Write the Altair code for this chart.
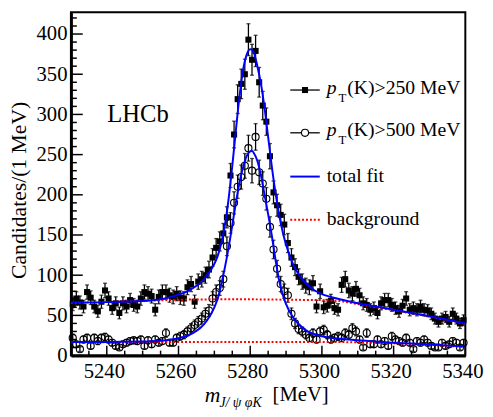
import altair as alt
import pandas as pd

# ── Data: candidates per 1 MeV bin ───────────────────────────────────────────
mass = [5230.5 + i for i in range(110)]   # bin centres

n_250 = [64, 71, 66, 61, 79, 72, 61, 55, 67, 81, 71, 59, 65, 53, 65, 61, 69, 63,
         61, 71, 79, 77, 74, 57, 73, 79, 79, 75, 73, 77, 72, 71, 85, 89, 67, 92,
         95, 100, 107, 122, 134, 142, 152, 172,
         224, 275, 319, 338, 350, 393, 368, 379, 340, 311, 291, 248, 203,
         187, 175, 163, 140, 122, 110, 98, 92, 87, 85, 90, 61, 80, 60, 62, 68,
         59, 57, 88, 95, 81, 77, 83, 75, 65, 63, 57, 59, 53, 65, 69, 69, 63, 59,
         55, 62, 71, 57, 59, 57, 61, 57, 56, 52, 46, 42, 46, 48, 42, 52, 46, 40,
         44]

n_500 = [22, 14, 8, 20, 22, 12, 22, 18, 22, 23, 20, 16, 12, 10, 14, 16, 18, 19,
         18, 20, 12, 19, 14, 20, 16, 18, 28, 16, 16,
         22, 24, 26, 30, 34, 38, 42, 46, 52, 56, 71, 79, 84, 95, 136, 165, 190, 210,
         222, 236, 258, 230, 272, 228, 214,
         195, 160, 132, 108, 89, 80, 75, 52,
         40, 33, 30, 26, 22, 28, 20, 30, 32, 26, 20, 22, 24, 22, 28, 26, 34, 30,
         20, 10, 28, 14, 14, 20, 14, 18, 12, 24, 20, 18, 16, 22, 16, 8, 18, 16,
         20, 16, 12, 10, 10, 16, 12, 14, 18, 16, 10, 16]

# fitted curves (total fit), sampled off the figure
fit_m = [5230, 5240, 5250, 5255, 5258, 5260, 5262, 5264, 5266, 5268, 5270, 5271,
         5272, 5273, 5274, 5275, 5276, 5277, 5278, 5279, 5280, 5280.5, 5281, 5282,
         5283, 5284, 5285, 5286, 5287, 5288, 5289, 5290, 5292, 5294, 5296, 5298,
         5300, 5302, 5305, 5310, 5315, 5320, 5325, 5330, 5335, 5340]
fit_250 = [66, 66.5, 68, 70, 73, 76, 79, 84, 90, 100, 114, 125,
           141, 164, 196, 236, 280, 322, 355, 374, 381, 380.5, 377, 360,
           338, 308, 272, 236, 204, 177, 155, 138, 113, 98, 88, 81,
           76.5, 73.5, 70, 65, 61, 57, 53, 49, 44.5, 40]
fit_500 = [17, 17, 17.5, 18.5, 20, 21.5, 24, 28, 34, 44, 60, 72,
           90, 111, 135, 162, 190, 215, 234, 248, 254, 254.5, 252, 242,
           224, 200, 176, 150, 121, 95, 77, 64, 47, 37, 30, 26.5,
           24, 22.5, 21, 19, 17.5, 16, 15, 14, 12.5, 11]

# background component
bkg_m = [5230, 5240, 5250, 5260, 5270, 5280, 5290, 5300, 5305, 5310, 5320, 5330, 5340]
bkg_250 = [65.5, 66.5, 68, 69.5, 70, 70, 69.5, 69, 68, 64, 56.5, 48.5, 39.5]
bkg_500 = [16.5, 16.5, 16.8, 17, 17, 17, 17, 17, 16.8, 16.5, 15.2, 13.5, 10.7]

# axis ticks (drawn inward, ROOT style)
x_major = [5240, 5260, 5280, 5300, 5320, 5340]
x_minor = [5235, 5245, 5250, 5255, 5265, 5270, 5275, 5285, 5290, 5295,
           5305, 5310, 5315, 5325, 5330, 5335]
y_major = [0, 50, 100, 150, 200, 250, 300, 350, 400]
y_minor = [10, 20, 30, 40, 60, 70, 80, 90, 110, 120, 130, 140, 160, 170, 180, 190,
           210, 220, 230, 240, 260, 270, 280, 290, 310, 320, 330, 340, 360, 370,
           380, 390, 410, 420]

# ── Tables ───────────────────────────────────────────────────────────────────
pts = pd.DataFrame({
    'm': mass * 2,
    'n': n_250 + n_500,
    'sel': ['250'] * len(mass) + ['500'] * len(mass),
})
fits = pd.DataFrame({
    'm': fit_m * 2,
    'v': fit_250 + fit_500,
    'sel': ['250'] * len(fit_m) + ['500'] * len(fit_m),
})
bkgs = pd.DataFrame({
    'm': bkg_m * 2,
    'v': bkg_250 + bkg_500,
    'sel': ['250'] * len(bkg_m) + ['500'] * len(bkg_m),
})
one = pd.DataFrame({'z': [0]})

W, H = 401, 349
FONT = 'Liberation Serif'

x_scale = alt.Scale(domain=[5230, 5340], nice=False, zero=False)
y_scale = alt.Scale(domain=[0, 427], nice=False)
x_axis = alt.Axis(values=x_major, format='d', title=None, ticks=False, grid=False,
                  labelFont=FONT, labelFontSize=21, labelColor='black',
                  labelPadding=5, labelOffset=-3, labelFlush=False,
                  domainColor='black', domainWidth=3)
y_axis = alt.Axis(values=y_major, format='d', title=None, ticks=False, grid=False,
                  labelFont=FONT, labelFontSize=21, labelColor='black',
                  labelPadding=4, labelFlush=False,
                  domainColor='black', domainWidth=3)


def X(f):
    return alt.X(f, type='quantitative', scale=x_scale, axis=x_axis)


def Y(f):
    return alt.Y(f, type='quantitative', scale=y_scale, axis=y_axis)


# ── Data points with sqrt(N) error bars ──────────────────────────────────────
base = alt.Chart(pts).transform_calculate(
    lo='datum.n - sqrt(datum.n)', hi='datum.n + sqrt(datum.n)'
)
err = base.mark_rule(color='black', strokeWidth=1.3).encode(x=X('m'), y=Y('lo'), y2='hi:Q')
cap_lo = base.mark_tick(orient='horizontal', size=4, thickness=1.3, color='black').encode(x=X('m'), y=Y('lo'))
cap_hi = base.mark_tick(orient='horizontal', size=4, thickness=1.3, color='black').encode(x=X('m'), y=Y('hi'))
sq = base.transform_filter("datum.sel == '250'").mark_point(
    shape='square', filled=True, size=38, color='black', opacity=1
).encode(x=X('m'), y=Y('n'))
ci = base.transform_filter("datum.sel == '500'").mark_point(
    shape='circle', filled=False, size=52, color='black', strokeWidth=1.1, opacity=1
).encode(x=X('m'), y=Y('n'))

# ── Fit curves ───────────────────────────────────────────────────────────────
bkg_line = alt.Chart(bkgs).mark_line(color='red', strokeWidth=2, strokeDash=[2, 2]).encode(
    x=X('m'), y=Y('v'), detail='sel:N')
fit_line = alt.Chart(fits).mark_line(color='blue', strokeWidth=2, interpolate='monotone').encode(
    x=X('m'), y=Y('v'), detail='sel:N')

# ── Inward ticks ─────────────────────────────────────────────────────────────
def xt(vals, ln):
    return alt.Chart(pd.DataFrame({'t': vals})).mark_rule(color='black', strokeWidth=1.5).encode(
        x=X('t'), y=alt.value(H), y2=alt.value(H - ln))


def yt(vals, ln):
    return alt.Chart(pd.DataFrame({'t': vals})).mark_rule(color='black', strokeWidth=1.5).encode(
        y=Y('t'), x=alt.value(0), x2=alt.value(ln))


ticks = [xt(x_major, 10), xt(x_minor, 5), yt(y_major, 12), yt(y_minor, 6)]

# ── Text, titles and hand-made legend ────────────────────────────────────────
def txt(s, x, y, size=20, style='normal', align='left', angle=0):
    return alt.Chart(one).mark_text(
        text=s, font=FONT, fontSize=size, fontStyle=style, align=align,
        baseline='middle', angle=angle, color='black'
    ).encode(x=alt.value(x), y=alt.value(y))


def seg(y, color, dash=None):
    kw = dict(color=color, strokeWidth=2 if color != 'black' else 1.3)
    if dash:
        kw['strokeDash'] = dash
    return alt.Chart(one).mark_rule(**kw).encode(
        x=alt.value(223), x2=alt.value(253), y=alt.value(y))


texts = [
    txt('LHCb', 37, 104, size=25),
    txt('Candidates/(1 MeV)', -53, 181, size=22, align='center', angle=270),
    # x title: m_{J/ψφK} [MeV]
    txt('m', 136, 389, size=22, style='italic'),
    txt('J/ ψ φK', 151, 397, size=14, style='italic'),
    txt('[MeV]', 205, 389, size=21),
    # legend rows
    seg(79, 'black'),
    alt.Chart(one).mark_point(shape='square', filled=True, size=38, color='black', opacity=1).encode(
        x=alt.value(238), y=alt.value(79)),
    txt('p', 260, 77, style='italic'),
    txt('T', 272, 87, size=13),
    txt('(K)>250 MeV', 281, 77),
    seg(122.5, 'black'),
    alt.Chart(one).mark_point(shape='circle', filled=True, size=52, color='white', stroke='black',
                              strokeWidth=1.1, opacity=1).encode(x=alt.value(238), y=alt.value(122.5)),
    txt('p', 260, 120, style='italic'),
    txt('T', 272, 130, size=13),
    txt('(K)>500 MeV', 281, 120),
    seg(167, 'blue'),
    txt('total fit', 260, 167),
    seg(211, 'red', [2, 2]),
    txt('background', 260, 210),
]

chart = alt.layer(
    err, cap_lo, cap_hi, sq, ci, bkg_line, fit_line, *ticks, *texts
).properties(
    width=W, height=H,
    padding={'left': 64, 'top': 1, 'right': 20, 'bottom': 56},
    autosize=alt.AutoSizeParams(type='none'),
).configure(
    font=FONT
).configure_axis(
    labelFont=FONT, titleFont=FONT
).configure_text(
    font=FONT
).configure_view(
    stroke='black', strokeWidth=2
)

chart.save('out.html', embed_options={'renderer': 'svg', 'actions': False})
